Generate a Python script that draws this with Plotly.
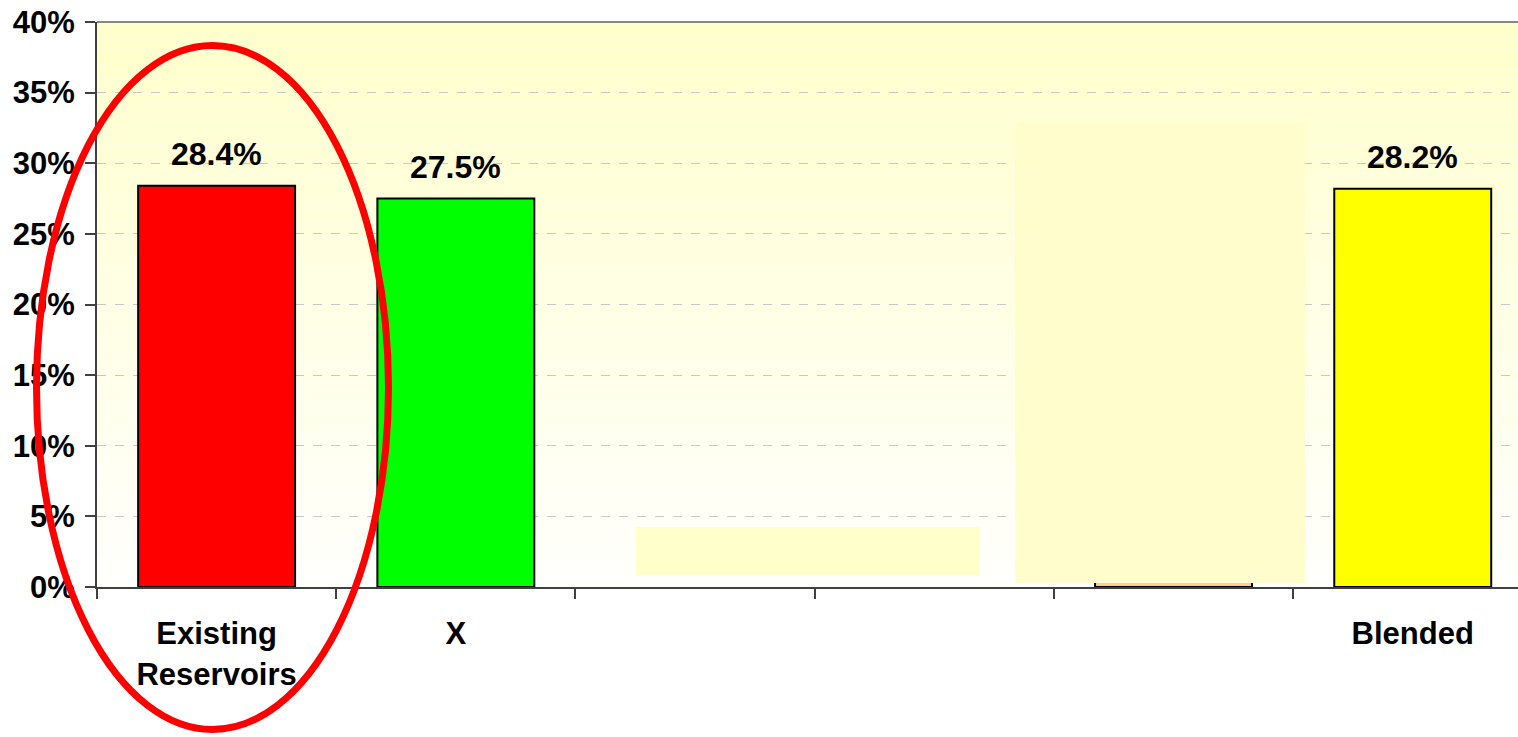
import plotly.graph_objects as go

# ---- data ----
categories = ["Existing<br>Reservoirs", "X", "", "", "", "Blended"]
values = [28.4, 27.5, None, None, 27.0, 28.2]          # 5th bar is hidden under a cover box
labels = ["28.4%", "27.5%", "", "", "", "28.2%"]
bar_colors = ["#FF0000", "#00FF00", "#FFFFFF", "#FFFFFF", "#FFCC99", "#FFFF00"]
y_ticks = [0, 5, 10, 15, 20, 25, 30, 35, 40]
y_ticktext = [f"{t}%" for t in y_ticks]

xs = list(range(len(categories)))
x_range = [-0.5, 5.44]
y_range = [0, 40]

FONT = "Liberation Sans, Arial, sans-serif"

fig = go.Figure()
fig.add_trace(go.Bar(
    x=xs, y=values,
    marker=dict(color=bar_colors, line=dict(color="black", width=2)),
    hoverinfo="skip", showlegend=False,
))

# value labels above bars
for x, v, t in zip(xs, values, labels):
    if v is not None and t:
        fig.add_annotation(x=x, y=v, text=t, showarrow=False, yanchor="bottom",
                           yshift=12, font=dict(family=FONT, size=32, color="black", weight="bold"))

shapes = []
# gradient plot background (pale yellow at top fading to white)
n = 60
for i in range(n):
    f = i / (n - 1)
    top = (1, 1, 0.80)
    bot = (1, 1, 0.99)
    c = [round(255 * (bot[k] + (top[k] - bot[k]) * f)) for k in range(3)]
    shapes.append(dict(type="rect", xref="paper", yref="y", x0=0, x1=1,
                       y0=y_range[1] * i / n, y1=y_range[1] * (i + 1) / n,
                       fillcolor=f"rgb({c[0]},{c[1]},{c[2]})", line=dict(width=0), layer="below"))
# top border
shapes.append(dict(type="line", xref="paper", yref="paper", x0=0, x1=1, y0=1, y1=1,
                   line=dict(color="#888888", width=2), layer="above"))
# cover boxes
shapes.append(dict(type="rect", xref="x", yref="y", x0=1.753, x1=3.187, y0=0.85, y1=4.25,
                   fillcolor="#FFFFCC", line=dict(width=0), layer="above"))
shapes.append(dict(type="rect", xref="x", yref="y", x0=3.338, x1=4.55, y0=0.28, y1=32.9,
                   fillcolor="#FFFDCC", line=dict(width=0), layer="above"))
# red highlight ellipse
shapes.append(dict(type="circle", xref="paper", yref="paper",
                   x0=(36.5 - 97) / 1421, x1=(388.5 - 97) / 1421,
                   y0=(587 - 729.5) / 565, y1=(587 - 45.5) / 565,
                   line=dict(color="#FF0000", width=7), layer="above"))

fig.update_layout(
    width=1518, height=737,
    margin=dict(l=97, r=0, t=22, b=150, autoexpand=False),
    paper_bgcolor="white", plot_bgcolor="white",
    bargap=0.344,
    shapes=shapes,
    font=dict(family=FONT, color="black"),
)
fig.update_xaxes(
    range=x_range, tickvals=xs, ticktext=categories, ticks="", ticklen=0,
    ticklabelstandoff=18, ticklabeloverflow="allow",
    tickfont=dict(family=FONT, size=31, color="black", weight="bold"),
    showgrid=False, zeroline=False, automargin=False,
    showline=True, linecolor="#404040", linewidth=2,
    minor=dict(tickvals=[x - 0.5 for x in xs] + [5.5], ticks="outside", ticklen=10,
               tickcolor="#404040", tickwidth=2, showgrid=False),
    fixedrange=True,
)
fig.update_yaxes(
    range=y_range, tickvals=y_ticks, ticktext=y_ticktext,
    ticks="outside", ticklen=10, tickcolor="#404040", tickwidth=2,
    ticklabelstandoff=4, automargin=False, ticklabeloverflow="allow",
    tickfont=dict(family=FONT, size=31, color="black", weight="bold"),
    showgrid=True, gridcolor="#C8C8C8", griddash="dash", gridwidth=1,
    zeroline=False, showline=True, linecolor="#404040", linewidth=2,
    fixedrange=True,
)

fig.write_html("out.html", config={"displayModeBar": False},
               post_script="document.body.style.margin='0';document.body.style.overflow='hidden';")
